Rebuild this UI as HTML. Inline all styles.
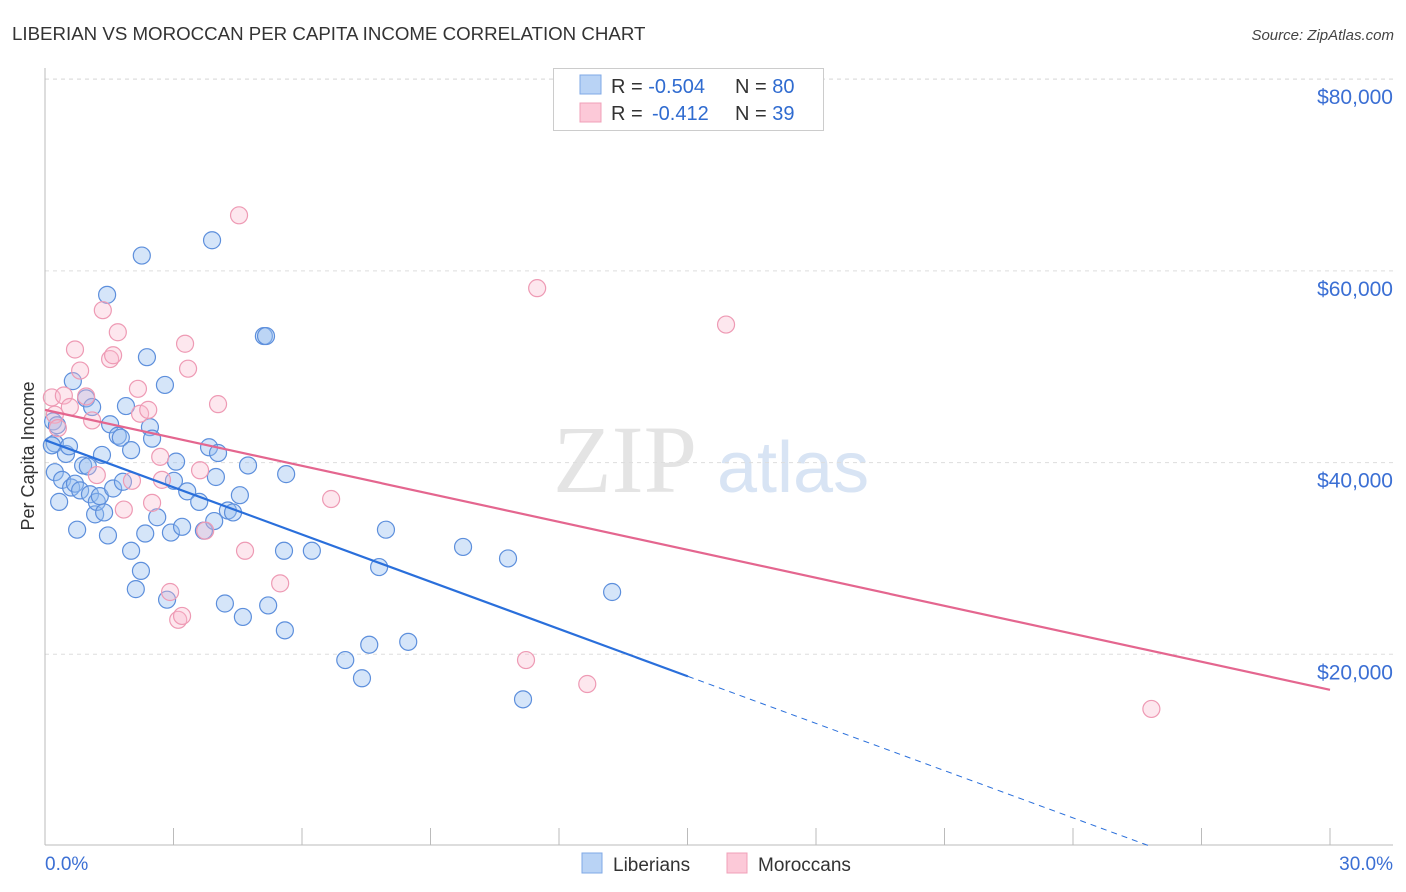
<!DOCTYPE html>
<html><head><meta charset="utf-8"><style>
body{margin:0;background:#fff;font-family:"Liberation Sans",sans-serif;}
svg{display:block}
</style></head><body>
<svg id="c" width="1406" height="892" viewBox="0 0 1406 892">
<text x="12" y="40" font-size="18.7" fill="#333">LIBERIAN VS MOROCCAN PER CAPITA INCOME CORRELATION CHART</text>
<text x="1394" y="40" font-size="15" fill="#444" font-style="italic" text-anchor="end">Source: ZipAtlas.com</text>
<g>
<text x="553" y="492" font-family="Liberation Serif,serif" font-size="96" fill="#e4e4e4">ZIP</text>
<text x="717" y="492" font-size="72" fill="#d8e4f4">atlas</text>
</g>
<g id="grid"></g>
<line x1="45" y1="68" x2="45" y2="845" stroke="#bbb"/>
<line x1="45" y1="845" x2="1393" y2="845" stroke="#bbb"/>
<g id="ticks"></g>
<text transform="translate(34,456) rotate(-90)" font-size="18" fill="#333" text-anchor="middle">Per Capita Income</text>
<g id="pts"></g>
<g id="trend"></g>
<g>
<rect x="553.5" y="68.5" width="270" height="62" fill="#fff" stroke="#ccc"/>
<rect x="580" y="75" width="21" height="19" fill="#b9d3f5" stroke="#7fa8e6"/>
<rect x="580" y="103" width="21" height="19" fill="#fcc9d8" stroke="#f0a0b8"/>
<text x="611" y="93" font-size="20" fill="#333">R = <tspan fill="#2f6bd0">-0.504</tspan><tspan x="735">N = </tspan><tspan fill="#2f6bd0">80</tspan></text>
<text x="611" y="120" font-size="20" fill="#333">R = <tspan x="652" fill="#2f6bd0">-0.412</tspan><tspan x="735">N = </tspan><tspan fill="#2f6bd0"> 39</tspan></text>
</g>
<g>
<rect x="582" y="853" width="20" height="20" fill="#b9d3f5" stroke="#7fa8e6"/>
<text x="613" y="871" font-size="19" fill="#333">Liberians</text>
<rect x="727" y="853" width="20" height="20" fill="#fcc9d8" stroke="#f0a0b8"/>
<text x="758" y="871" font-size="19" fill="#333">Moroccans</text>
</g>
</svg>
<script>
const yTicks=[20000,40000,60000,80000];
const yTickLabels=["$20,000","$40,000","$60,000","$80,000"];
const xTickVals=[0,3,6,9,12,15,18,21,24,27,30];
const xEndLabels=["0.0%","30.0%"];
const libX=[0.19,0.23,0.16,0.28,0.23,0.33,0.40,0.49,0.56,0.61,0.65,0.75,0.70,0.82,0.89,0.96,1.00,1.05,1.10,1.17,1.21,1.28,1.33,1.38,1.45,1.47,1.52,1.59,1.70,1.77,1.82,1.89,2.01,2.01,2.12,2.24,2.26,2.34,2.38,2.45,2.50,2.62,2.80,2.85,2.94,3.01,3.06,3.20,3.32,3.60,3.71,3.83,3.90,3.95,3.99,4.04,4.20,4.27,4.39,4.55,4.62,4.74,5.11,5.16,5.21,5.60,5.63,5.58,6.23,7.01,7.40,7.57,7.80,7.96,8.48,9.76,10.81,11.16,13.24];
const libY=[44.3,42.0,41.8,43.9,39.0,35.9,38.2,40.9,41.7,37.4,48.5,33.0,37.8,37.1,39.7,46.7,39.6,36.7,45.8,34.6,35.9,36.5,40.8,34.8,57.5,32.4,44.0,37.3,42.8,42.6,38.0,45.9,30.8,41.3,26.8,28.7,61.6,32.6,51.0,43.7,42.5,34.3,48.1,25.7,32.7,38.1,40.1,33.3,37.0,35.9,32.9,41.6,63.2,33.9,38.5,41.0,25.3,35.0,34.8,36.6,23.9,39.7,53.2,53.2,25.1,22.5,38.8,30.8,30.8,19.4,17.5,21.0,29.1,33.0,21.3,31.2,30.0,15.3,26.5];
const morX=[0.16,0.23,0.30,0.44,0.58,0.70,0.82,0.96,1.10,1.21,1.35,1.52,1.59,1.70,1.84,2.03,2.17,2.22,2.41,2.50,2.69,2.73,2.92,3.11,3.20,3.27,3.34,3.62,3.74,4.04,4.53,4.67,5.49,6.68,11.23,11.49,12.66,15.90,25.83];
const morY=[46.8,45.0,43.6,47.0,45.8,51.8,49.6,46.9,44.4,38.7,55.9,50.8,51.2,53.6,35.1,38.1,47.7,45.1,45.5,35.8,40.6,38.2,26.5,23.6,24.0,52.4,49.8,39.2,32.9,46.1,65.8,30.8,27.4,36.2,19.4,58.2,16.9,54.4,14.3];
const libTrend=[42.35,17.7,15.01];
const morTrend=[45.5,16.3];
const NS="http://www.w3.org/2000/svg";
const sx=v=>45+v/30*1285;
const sy=v=>846-v/20000*191.7;
function mk(tag,attrs,parent){const e=document.createElementNS(NS,tag);for(const k in attrs)e.setAttribute(k,attrs[k]);document.getElementById(parent).appendChild(e);return e;}
yTicks.forEach((t,i)=>{
 const g=mk('line',{x1:45,x2:1393,y1:sy(t),y2:sy(t),stroke:'#ddd','stroke-dasharray':'4,4'},'grid');
 
 
 const l=mk('text',{x:1393,y:sy(t)+25,'font-size':21,fill:'#3b6fd4','text-anchor':'end'},'grid');
 l.textContent=yTickLabels[i];
 
 
});
const tg=mk('line',{x1:45,x2:1393,y1:79,y2:79,stroke:'#ddd','stroke-dasharray':'4,4'},'grid');


xTickVals.forEach(v=>{
 if(v===0)return;
 const t=mk('line',{x1:sx(v),x2:sx(v),y1:828,y2:845,stroke:'#bbb'},'ticks');
 
 
});
[[0,'start'],[30,'end']].forEach((p,i)=>{
 const t=mk('text',{x:i?1393:45,y:870,'font-size':19,fill:'#3b6fd4','text-anchor':p[1]},'ticks');
 t.textContent=xEndLabels[i];
 
 
});
libX.forEach((x,i)=>{
 const c=mk('circle',{cx:sx(x),cy:sy(libY[i]*1000),r:8.5,fill:'rgba(150,190,240,0.4)',stroke:'#5d8fdc','stroke-width':1.2},'pts');
 
 
});
morX.forEach((x,i)=>{
 const c=mk('circle',{cx:sx(x),cy:sy(morY[i]*1000),r:8.5,fill:'rgba(250,185,205,0.35)',stroke:'#ee9ab4','stroke-width':1.2},'pts');
 
 
});
const slope=(libTrend[1]-libTrend[0])/libTrend[2];
const xz=-libTrend[0]/slope;
const l1=mk('line',{x1:sx(0),y1:sy(libTrend[0]*1000),x2:sx(libTrend[2]),y2:sy(libTrend[1]*1000),stroke:'#2a6fdb','stroke-width':2.2},'trend');


const l2=mk('line',{x1:sx(libTrend[2]),y1:sy(libTrend[1]*1000),x2:sx(xz),y2:sy(0),stroke:'#2a6fdb','stroke-width':1,'stroke-dasharray':'6,5'},'trend');


const l3=mk('line',{x1:sx(0),y1:sy(morTrend[0]*1000),x2:sx(30),y2:sy(morTrend[1]*1000),stroke:'#e4668f','stroke-width':2.2},'trend');


</script>
</body></html>
